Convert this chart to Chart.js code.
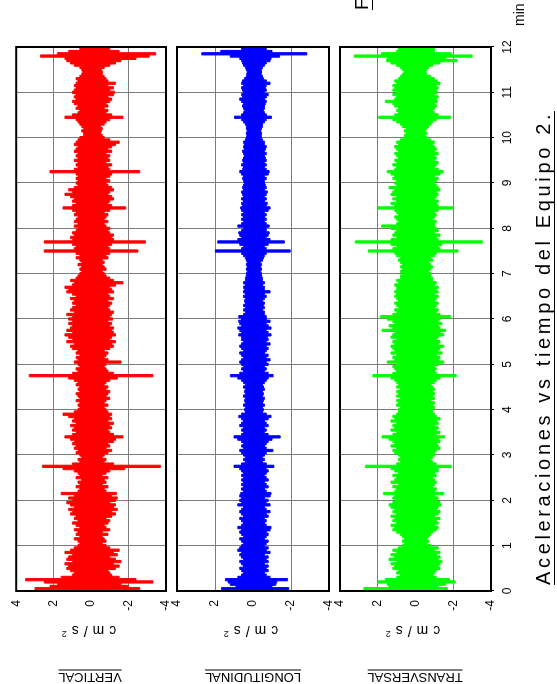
<!DOCTYPE html>
<html>
<head>
<meta charset="utf-8">
<script src="https://cdn.jsdelivr.net/npm/chart.js@4.4.0/dist/chart.umd.min.js"></script>
<style>
  html, body { margin: 0; padding: 0; background: #fff; width: 557px; height: 684px; overflow: hidden; }
  /* landscape sheet, turned a quarter left like the scanned page */
  #page {
    position: absolute; left: 0; top: 0; width: 684px; height: 557px; overflow: hidden;
    transform-origin: 0 0; transform: translate(0, 684px) rotate(-90deg);
    font-family: "Liberation Sans", Arial, sans-serif; color: #000; background: #fff;
  }
  #page canvas { position: absolute; left: 0; top: 0; }
  .lbl { position: absolute; white-space: nowrap; line-height: 1; }
  .ul  { border-bottom: 1px solid #000; padding-bottom: 1px; }
  .rot { transform: translate(-50%, -50%) rotate(-90deg); }
  sup  { font-size: 9px; vertical-align: 5px; line-height: 0; letter-spacing: 0; }
</style>
</head>
<body>
<div id="page">
  <canvas id="c-vert" width="684" height="557"></canvas>
  <canvas id="c-long" width="684" height="557"></canvas>
  <canvas id="c-tran" width="684" height="557"></canvas>

  <div class="lbl ul rot" style="left:7px;top:90px;font-size:13px">VERTICAL</div>
  <div class="lbl ul rot" style="left:7px;top:253px;font-size:13px">LONGITUDINAL</div>
  <div class="lbl ul rot" style="left:7px;top:415px;font-size:13px">TRANSVERSAL</div>

  <div class="lbl rot" style="left:53px;top:89px;font-size:14px"><span class="unit">cm/s</span><sup>2</sup></div>
  <div class="lbl rot" style="left:53px;top:251px;font-size:14px"><span class="unit">cm/s</span><sup>2</sup></div>
  <div class="lbl rot" style="left:53px;top:413px;font-size:14px"><span class="unit">cm/s</span><sup>2</sup></div>

  <div class="lbl ul" id="title" style="left:99px;top:533px;font-size:20px">Aceleraciones vs tiempo del Equipo 2.</div>
  <div class="lbl" id="xunit" style="left:658px;top:512px;font-size:14px">min</div>
  <div class="lbl ul" id="fig" style="left:674px;top:352px;font-size:19px">FIGURA</div>
</div>

<script>
// ── Data (cm/s², one sample every 0.05 min, t = 0 … 12) ─────────────
const STEP = 0.05;
const minutes = [0, 1, 2, 3, 4, 5, 6, 7, 8, 9, 10, 11, 12];
const ampTicks = [-4, -2, 0, 2, 4];

const vertUp = [
  1.5, 3.0, 2.2, 1.8, 2.5, 3.5, 1.6, 1.0, 0.9, 1.1, 1.3, 1.2, 1.4, 1.0, 1.3, 1.2, 1.0, 1.4, 1.1, 0.9,
  0.7, 0.6, 0.7, 0.9, 0.6, 0.8, 0.7, 0.9, 0.6, 0.8, 1.0, 0.7, 0.9, 0.8, 1.1, 1.0, 1.2, 0.9, 1.1, 1.3,
  1.0, 1.2, 0.9, 1.6, 0.7, 0.6, 0.8, 0.6, 0.7, 0.5, 0.8, 0.6, 0.7, 0.9, 1.5, 2.6, 1.0, 0.6, 0.7, 0.5,
  0.6, 0.8, 0.7, 0.9, 0.8, 1.0, 0.9, 1.1, 1.4, 1.0, 0.8, 1.0, 0.9, 1.1, 0.8, 1.0, 0.9, 1.2, 1.5, 0.9,
  0.7, 0.6, 0.7, 0.6, 0.8, 0.6, 0.7, 0.8, 0.6, 0.7, 0.6, 0.8, 0.7, 0.9, 1.2, 3.3, 1.0, 0.7, 0.8, 0.6,
  0.7, 0.9, 0.7, 0.8, 0.6, 0.8, 0.7, 1.0, 1.1, 0.9, 1.3, 1.0, 1.2, 1.4, 1.0, 1.3, 1.1, 1.0, 1.2, 1.0,
  1.2, 1.0, 1.3, 0.9, 1.1, 1.0, 0.8, 1.0, 0.9, 1.1, 0.8, 1.0, 1.3, 1.2, 1.4, 1.0, 0.9, 1.1, 0.8, 0.7,
  0.6, 0.5, 0.6, 0.5, 0.7, 0.5, 0.6, 0.8, 0.6, 0.8, 2.5, 0.9, 0.8, 1.0, 2.5, 1.0, 1.1, 0.9, 1.0, 0.8,
  0.7, 0.9, 0.7, 0.9, 0.8, 0.7, 0.9, 0.8, 1.0, 1.5, 1.0, 0.8, 1.0, 0.9, 1.1, 1.4, 1.0, 1.2, 0.9, 0.7,
  0.8, 0.7, 0.8, 0.7, 0.8, 2.2, 0.9, 0.7, 0.8, 0.7, 0.9, 0.7, 0.8, 0.7, 0.9, 0.8, 0.7, 0.9, 0.8, 0.7,
  0.6, 0.4, 0.4, 0.5, 0.4, 0.5, 0.6, 0.7, 0.8, 1.4, 1.0, 0.7, 0.6, 0.8, 0.7, 0.9, 1.0, 0.8, 0.9, 0.8,
  1.0, 0.9, 0.8, 0.9, 0.8, 0.7, 0.8, 0.6, 0.5, 0.45, 0.5, 0.6, 0.9, 1.1, 1.3, 1.4, 2.7, 1.8, 1.2, 0.6,
  0.5
];
const vertDn = [
  -1.2, -2.6, -2.0, -1.6, -3.3, -2.4, -1.5, -1.1, -1.0, -0.9, -1.3, -1.5, -1.2, -1.6, -1.3, -1.0, -1.4, -1.2, -1.5, -1.0,
  -0.8, -0.6, -0.8, -0.7, -0.6, -0.9, -0.6, -1.0, -0.8, -0.7, -0.9, -1.0, -0.8, -1.1, -1.3, -1.1, -1.4, -1.2, -1.3, -1.0,
  -1.3, -1.4, -1.1, -1.35, -0.8, -0.7, -0.9, -0.6, -0.8, -0.7, -0.9, -0.6, -0.8, -1.0, -1.8, -3.7, -1.2, -0.7, -0.8, -0.6,
  -0.7, -0.9, -1.1, -0.8, -1.0, -0.9, -1.2, -1.3, -1.7, -1.2, -1.0, -0.9, -1.1, -1.0, -1.2, -0.9, -1.1, -1.0, -1.1, -0.9,
  -0.8, -0.7, -0.9, -0.7, -0.8, -1.0, -0.8, -0.9, -1.0, -0.8, -0.9, -0.7, -0.8, -1.0, -1.4, -3.3, -1.2, -0.9, -0.8, -0.7,
  -0.8, -1.6, -0.9, -0.7, -0.8, -0.9, -0.7, -1.0, -1.2, -1.1, -1.3, -1.0, -1.1, -1.3, -1.2, -1.1, -1.2, -1.0, -1.1, -0.9,
  -1.15, -1.0, -1.1, -1.2, -1.0, -0.9, -1.0, -1.1, -0.9, -1.2, -1.0, -0.9, -1.2, -1.1, -1.0, -1.3, -1.7, -1.2, -1.0, -0.8,
  -0.7, -0.6, -0.8, -0.7, -0.6, -0.7, -0.6, -0.9, -0.8, -1.0, -2.5, -1.0, -0.9, -1.1, -2.9, -1.2, -1.1, -1.2, -1.0, -0.9,
  -1.0, -0.8, -0.7, -0.9, -0.7, -0.8, -0.9, -0.7, -1.0, -1.85, -1.1, -0.9, -1.0, -1.2, -1.1, -0.9, -1.0, -1.2, -1.1, -0.9,
  -0.8, -1.0, -0.8, -1.0, -1.1, -2.6, -1.0, -0.9, -1.1, -0.8, -1.0, -0.9, -1.0, -0.8, -1.1, -0.9, -1.1, -1.3, -1.5, -1.0,
  -0.7, -0.6, -0.5, -0.55, -0.6, -0.5, -0.7, -0.8, -1.0, -1.7, -1.1, -0.8, -0.9, -0.7, -0.9, -0.8, -1.0, -1.1, -0.9, -1.2,
  -1.25, -1.0, -1.2, -0.9, -1.3, -0.9, -0.8, -0.7, -0.6, -0.6, -0.55, -0.7, -1.0, -1.3, -1.6, -2.4, -3.1, -3.45, -1.5, -1.0,
  -0.9
];

const longUp = [
  0.7, 1.66, 0.9, 1.2, 1.3, 1.45, 0.8, 0.6, 0.5, 0.6, 0.7, 0.5, 0.6, 0.7, 0.5, 0.6, 0.7, 0.6, 0.8, 0.7,
  0.6, 0.5, 0.6, 0.7, 0.5, 0.6, 0.7, 0.6, 0.8, 0.6, 0.5, 0.6, 0.7, 0.5, 0.6, 0.7, 0.6, 0.5, 0.8, 0.6,
  0.7, 0.6, 0.7, 0.65, 0.5, 0.6, 0.5, 0.6, 0.5, 0.6, 0.5, 0.6, 0.5, 0.6, 0.7, 1.0, 0.6, 0.4, 0.5, 0.4,
  0.5, 0.6, 0.7, 0.5, 0.6, 0.5, 0.6, 0.8, 1.0, 0.6, 0.5, 0.6, 0.5, 0.7, 0.6, 0.5, 0.6, 0.75, 0.6, 0.4,
  0.45, 0.4, 0.5, 0.4, 0.45, 0.4, 0.5, 0.4, 0.45, 0.4, 0.5, 0.4, 0.5, 0.6, 0.8, 1.19, 0.7, 0.5, 0.6, 0.5,
  0.6, 0.7, 0.6, 0.5, 0.6, 0.7, 0.5, 0.6, 0.7, 0.6, 0.5, 0.6, 0.6, 0.75, 0.6, 0.7, 0.8, 0.6, 0.7, 0.75,
  0.6, 0.75, 0.5, 0.4, 0.5, 0.4, 0.5, 0.4, 0.45, 0.4, 0.5, 0.4, 0.5, 0.45, 0.5, 0.4, 0.5, 0.4, 0.4, 0.35,
  0.35, 0.3, 0.35, 0.3, 0.35, 0.3, 0.35, 0.4, 0.5, 0.6, 1.98, 0.6, 0.5, 0.7, 1.86, 0.8, 0.6, 0.7, 0.75, 0.6,
  0.5, 0.8, 0.6, 0.5, 0.6, 0.5, 0.6, 0.5, 0.6, 0.65, 0.55, 0.6, 0.5, 0.6, 0.5, 0.55, 0.6, 0.5, 0.55, 0.5,
  0.45, 0.5, 0.55, 0.5, 0.6, 0.7, 0.55, 0.5, 0.6, 0.5, 0.55, 0.5, 0.45, 0.5, 0.55, 0.45, 0.5, 0.45, 0.5, 0.4,
  0.35, 0.33, 0.35, 0.3, 0.35, 0.35, 0.4, 0.5, 0.6, 0.97, 0.6, 0.5, 0.45, 0.5, 0.55, 0.5, 0.6, 0.7, 0.55, 0.6,
  0.5, 0.55, 0.6, 0.5, 0.6, 0.55, 0.45, 0.35, 0.33, 0.3, 0.35, 0.4, 0.5, 0.55, 0.6, 0.7, 1.2, 2.7, 1.7, 0.6,
  0.57
];
const longDn = [
  -1.1, -1.88, -1.0, -1.2, -1.25, -1.82, -0.9, -0.7, -0.6, -0.8, -0.7, -0.8, -0.6, -0.8, -0.7, -0.8, -0.6, -0.9, -0.7, -0.8,
  -0.6, -0.7, -0.8, -0.6, -0.7, -0.8, -0.7, -0.9, -0.95, -0.7, -0.6, -0.7, -0.6, -0.8, -0.7, -0.9, -0.7, -0.6, -0.9, -0.7,
  -0.8, -0.6, -0.9, -0.95, -0.7, -0.6, -0.8, -0.7, -0.6, -0.8, -0.7, -0.6, -0.7, -0.8, -0.7, -1.1, -0.7, -0.5, -0.6, -0.5,
  -0.6, -0.7, -1.05, -0.7, -0.6, -0.7, -0.8, -1.0, -1.43, -0.8, -0.6, -0.7, -0.6, -0.8, -0.7, -0.6, -0.8, -0.95, -0.7, -0.5,
  -0.55, -0.5, -0.6, -0.5, -0.55, -0.6, -0.5, -0.55, -0.5, -0.6, -0.55, -0.5, -0.6, -0.7, -0.8, -1.06, -0.8, -0.6, -0.7, -0.6,
  -0.8, -0.7, -0.9, -0.7, -0.8, -0.6, -0.7, -0.8, -0.7, -0.9, -0.7, -0.8, -0.75, -0.95, -0.8, -0.7, -0.95, -0.8, -0.7, -0.9,
  -0.7, -0.7, -0.6, -0.6, -0.5, -0.6, -0.55, -0.6, -0.5, -0.6, -0.7, -0.6, -0.9, -0.6, -0.6, -0.5, -0.6, -0.5, -0.5, -0.45,
  -0.45, -0.4, -0.45, -0.4, -0.45, -0.4, -0.5, -0.55, -0.6, -0.7, -1.96, -0.7, -0.6, -0.8, -1.65, -0.9, -0.7, -0.8, -0.85, -0.7,
  -0.7, -0.85, -0.7, -0.6, -0.7, -0.6, -0.7, -0.6, -0.8, -0.9, -0.7, -0.75, -0.6, -0.7, -0.6, -0.7, -0.75, -0.6, -0.7, -0.65,
  -0.6, -0.6, -0.7, -0.6, -0.8, -0.85, -0.7, -0.6, -0.7, -0.6, -0.7, -0.65, -0.6, -0.7, -0.6, -0.65, -0.7, -0.6, -0.6, -0.5,
  -0.45, -0.44, -0.45, -0.4, -0.45, -0.5, -0.5, -0.6, -0.7, -0.97, -0.7, -0.6, -0.55, -0.6, -0.6, -0.65, -0.7, -0.6, -0.7, -0.8,
  -0.6, -0.7, -0.65, -0.7, -0.9, -0.7, -0.55, -0.5, -0.44, -0.45, -0.45, -0.5, -0.6, -0.7, -0.9, -0.95, -1.4, -2.83, -1.0, -0.7,
  -0.67
];

const tranUp = [
  1.2, 2.74, 1.4, 1.5, 2.0, 1.6, 1.0, 0.8, 1.0, 0.9, 1.2, 1.1, 1.3, 1.0, 1.4, 1.1, 1.3, 1.0, 1.2, 0.9,
  0.7, 0.6, 0.7, 0.6, 0.7, 0.8, 1.0, 1.2, 1.1, 1.3, 1.0, 1.2, 1.1, 1.3, 1.0, 1.2, 1.1, 1.3, 1.4, 1.2,
  1.0, 1.2, 1.1, 1.7, 1.1, 1.0, 1.2, 0.9, 1.3, 1.1, 1.0, 1.2, 0.9, 1.1, 1.3, 2.65, 1.0, 0.8, 0.9, 0.8,
  0.9, 1.1, 1.2, 1.0, 1.3, 1.1, 1.2, 1.4, 1.77, 1.2, 1.0, 1.3, 1.1, 1.2, 1.0, 1.3, 1.1, 1.2, 1.0, 0.9,
  0.9, 0.8, 1.0, 0.9, 1.0, 0.8, 1.0, 0.9, 1.0, 0.8, 1.0, 0.9, 1.0, 1.1, 1.3, 2.26, 1.2, 1.0, 1.1, 1.2,
  1.0, 1.5, 1.1, 1.2, 1.0, 1.3, 1.1, 1.2, 1.3, 1.1, 1.2, 1.0, 1.3, 1.2, 1.1, 1.77, 1.2, 1.4, 1.1, 1.2,
  1.5, 1.86, 1.2, 1.0, 1.1, 0.9, 1.0, 1.1, 0.9, 1.0, 1.1, 1.0, 1.1, 1.0, 1.0, 1.1, 0.9, 1.0, 0.8, 0.8,
  0.7, 0.8, 0.7, 0.8, 0.7, 0.8, 0.9, 0.8, 1.0, 1.1, 2.5, 1.2, 1.0, 1.3, 3.19, 1.3, 1.0, 1.2, 1.1, 1.0,
  1.3, 1.8, 1.0, 0.9, 1.0, 1.1, 0.9, 1.0, 1.1, 2.0, 1.1, 1.3, 1.0, 1.2, 1.0, 1.3, 1.2, 1.1, 1.4, 1.0,
  1.1, 1.0, 1.2, 1.1, 1.3, 1.5, 1.1, 1.0, 1.2, 1.0, 1.1, 0.9, 1.0, 1.1, 0.9, 1.0, 1.1, 0.9, 1.0, 0.8,
  0.6, 0.6, 0.5, 0.6, 0.5, 0.7, 0.8, 1.0, 1.2, 1.95, 1.1, 0.9, 1.0, 0.9, 1.1, 1.2, 1.6, 1.1, 1.0, 1.2,
  1.0, 1.2, 1.1, 1.2, 1.0, 1.1, 0.9, 0.8, 0.7, 0.6, 0.7, 0.8, 1.0, 1.3, 1.54, 1.5, 3.24, 1.8, 1.0, 0.9,
  0.9
];
const tranDn = [
  -1.0, -1.68, -1.2, -1.6, -2.1, -1.8, -1.1, -0.9, -1.0, -1.1, -1.3, -1.2, -1.3, -1.4, -1.2, -1.3, -1.1, -1.3, -1.0, -1.2,
  -0.8, -0.6, -0.7, -0.6, -0.7, -0.8, -0.9, -1.1, -1.2, -1.0, -1.2, -1.1, -1.3, -1.0, -1.2, -1.3, -1.1, -1.2, -1.35, -1.3,
  -1.1, -1.2, -1.0, -1.5, -1.0, -1.1, -0.9, -1.0, -1.1, -1.0, -0.9, -1.1, -1.0, -1.2, -1.2, -1.9, -1.1, -0.9, -0.8, -0.9,
  -1.0, -1.0, -1.1, -1.3, -1.2, -1.1, -1.3, -1.2, -1.54, -1.1, -1.3, -1.1, -1.2, -1.0, -1.2, -1.1, -1.3, -1.1, -1.0, -0.9,
  -0.9, -1.0, -0.9, -1.0, -0.8, -1.0, -0.9, -1.0, -0.9, -1.0, -0.9, -0.8, -1.0, -1.1, -1.3, -2.16, -1.1, -1.0, -1.1, -1.0,
  -1.2, -1.5, -1.2, -1.3, -1.1, -1.4, -1.2, -1.3, -1.5, -1.2, -1.3, -1.1, -1.2, -1.5, -1.3, -1.6, -1.3, -1.2, -1.4, -1.2,
  -1.3, -1.86, -1.3, -1.1, -1.2, -1.0, -1.1, -1.2, -1.0, -1.1, -1.2, -1.0, -1.2, -1.1, -1.2, -1.0, -1.1, -0.9, -0.9, -0.8,
  -0.8, -0.7, -0.8, -0.9, -0.8, -0.7, -0.9, -0.8, -1.0, -1.1, -2.25, -1.3, -1.2, -1.4, -3.54, -1.2, -1.1, -1.3, -1.0, -1.2,
  -1.1, -1.0, -1.0, -1.1, -0.9, -1.0, -1.1, -1.0, -1.2, -2.0, -1.2, -1.1, -1.2, -1.0, -1.1, -1.2, -1.1, -1.3, -1.2, -1.1,
  -1.0, -1.1, -1.2, -1.0, -1.3, -1.47, -1.2, -1.0, -1.1, -1.2, -1.0, -1.1, -1.0, -1.2, -1.0, -1.1, -1.0, -0.9, -1.0, -0.8,
  -0.6, -0.5, -0.6, -0.5, -0.6, -0.7, -0.8, -0.9, -1.1, -1.86, -1.2, -1.0, -0.9, -1.0, -1.1, -1.0, -1.15, -1.1, -1.2, -1.0,
  -1.15, -1.1, -1.2, -1.1, -1.3, -1.15, -1.0, -0.8, -0.6, -0.55, -0.6, -0.7, -0.9, -1.3, -2.2, -1.6, -3.0, -1.9, -1.0, -1.0,
  -1.0
];

// ── Layout (sheet coordinates, before the quarter turn) ─────────────
const SHEET_W = 684, SHEET_H = 557;
const PLOT_LEFT = 93, PLOT_RIGHT = 637;
const XLABEL_H = 24; // room for the minute labels under the last panel
Chart.defaults.font.family = '"Liberation Sans", Arial, sans-serif';
Chart.defaults.color = "#000";

const panels = [
  { id: "c-vert", top: 15,  bottom: 166, up: vertUp, dn: vertDn, color: "#ff0000", axis: false },
  { id: "c-long", top: 177, bottom: 329, up: longUp, dn: longDn, color: "#0000ff", axis: false },
  { id: "c-tran", top: 340, bottom: 491, up: tranUp, dn: tranDn, color: "#00ff00", axis: true  },
];

const boxPlugin = {
  id: "box",
  afterDraw(chart) {
    const { ctx, chartArea: a } = chart;
    ctx.save();
    ctx.strokeStyle = "#000";
    ctx.lineWidth = 2;
    ctx.strokeRect(a.left, a.top, a.right - a.left, a.bottom - a.top);
    ctx.restore();
  },
};

const toPts = arr => arr.map((v, i) => ({ x: i * STEP, y: v }));

for (const p of panels) {
  const xh = p.axis ? XLABEL_H : 0;
  const trace = { borderColor: p.color, backgroundColor: p.color, borderWidth: 1,
                  pointRadius: 0, stepped: "middle" };
  new Chart(document.getElementById(p.id), {
    type: "line",
    data: {
      datasets: [
        { ...trace, data: toPts(p.up), fill: "+1" },
        { ...trace, data: toPts(p.dn), fill: false },
      ],
    },
    options: {
      responsive: false,
      animation: false,
      devicePixelRatio: 1,
      layout: { padding: { left: 0, right: SHEET_W - PLOT_RIGHT, top: p.top, bottom: SHEET_H - p.bottom - xh } },
      plugins: { legend: { display: false }, tooltip: { enabled: false } },
      scales: {
        x: {
          type: "linear", min: minutes[0], max: minutes[minutes.length - 1],
          afterFit: s => { s.height = xh; },
          afterBuildTicks: s => { s.ticks = minutes.map(v => ({ value: v })); },
          border: { display: false },
          grid: { color: "#7c7c7c", lineWidth: 1, drawTicks: p.axis, tickLength: 3, tickColor: "#000" },
          ticks: { display: p.axis, autoSkip: false, maxRotation: 0, padding: 6, font: { size: 12 } },
        },
        y: {
          min: ampTicks[0], max: ampTicks[ampTicks.length - 1],
          afterFit: s => { s.width = PLOT_LEFT; },
          afterBuildTicks: s => { s.ticks = ampTicks.map(v => ({ value: v })); },
          border: { display: false },
          grid: { drawTicks: false, lineWidth: 1,
                  color: c => Math.abs(c.tick.value) === 2 ? "#7c7c7c" : "rgba(0,0,0,0)" },
          ticks: { autoSkip: false, padding: 9, font: { size: 12 } },
        },
      },
    },
    plugins: [boxPlugin],
  });
}

// ── Wide-set lettering like the plotter font ─────────────────────────
function spreadTo(el, target) {
  el.style.letterSpacing = "0px";
  const n = el.textContent.length;
  const ls = (target - el.offsetWidth) / n;
  el.style.letterSpacing = ls.toFixed(2) + "px";
}
spreadTo(document.getElementById("title"), 474);
document.querySelectorAll(".unit").forEach(el => spreadTo(el, 50));
</script>
</body>
</html>
